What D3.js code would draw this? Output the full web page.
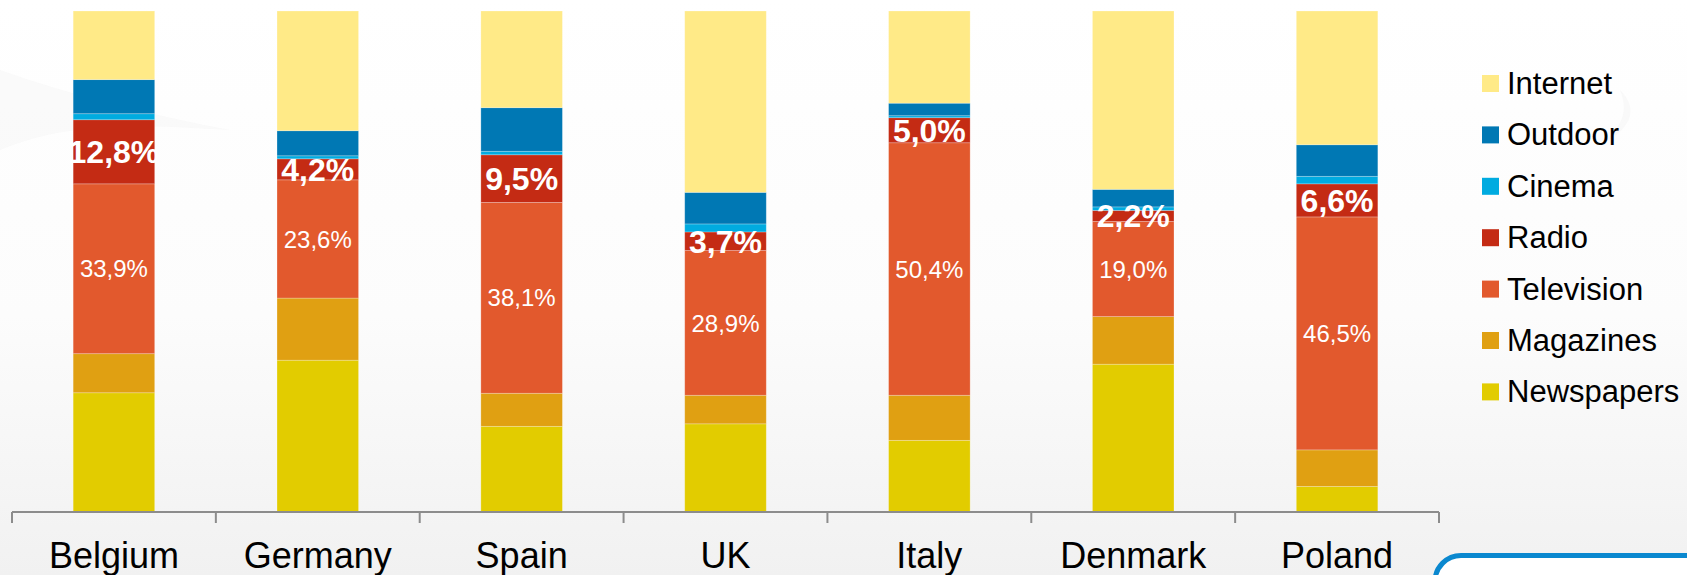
<!DOCTYPE html>
<html>
<head>
<meta charset="utf-8">
<script src="https://cdn.jsdelivr.net/npm/d3@7"></script>
<style>
  html, body { margin: 0; padding: 0; overflow: hidden; }
  body { width: 1687px; height: 575px; }
  text { font-family: "Liberation Sans", Arial, sans-serif; }
</style>
</head>
<body>
<div id="chart"></div>
<script>
// data: share of ad spend per medium (%)
var countries = ["Belgium", "Germany", "Spain", "UK", "Italy", "Denmark", "Poland"];
var media = ["Newspapers", "Magazines", "Television", "Radio", "Cinema", "Outdoor", "Internet"];

var newspapers = [23.8, 30.3, 17.1, 17.6, 14.3, 29.5, 5.1];
var magazines  = [7.8, 12.4, 6.6, 5.7, 9.0, 9.5, 7.3];
var television = [33.9, 23.6, 38.1, 28.9, 50.4, 19.0, 46.5];
var radio      = [12.8, 4.2, 9.5, 3.7, 5.0, 2.2, 6.6];
var cinema     = [1.2, 0.6, 0.7, 1.6, 0.4, 0.7, 1.5];
var outdoor    = [6.8, 5.0, 8.7, 6.3, 2.5, 3.5, 6.3];
var internet   = [13.7, 23.9, 19.3, 36.2, 18.4, 35.6, 26.7];

var colors = {
  Newspapers: "#e2cc00",
  Magazines: "#e0a012",
  Television: "#e2592d",
  Radio: "#c42b14",
  Cinema: "#00abe0",
  Outdoor: "#0078b4",
  Internet: "#ffea87"
};

// build rows for the stack
var series = [newspapers, magazines, television, radio, cinema, outdoor, internet];
var rows = countries.map(function(c, i) {
  var r = { country: c };
  media.forEach(function(m, k) { r[m] = series[k][i]; });
  return r;
});

var W = 1687, H = 575;

var svg = d3.select("#chart").append("svg")
  .attr("width", W)
  .attr("height", H);

// background gradient
var defs = svg.append("defs");
var grad = defs.append("linearGradient")
  .attr("id", "bg")
  .attr("x1", 0).attr("y1", 0).attr("x2", 0).attr("y2", 1);
grad.append("stop").attr("offset", "0%").attr("stop-color", "#ffffff");
grad.append("stop").attr("offset", "55%").attr("stop-color", "#fcfcfc");
grad.append("stop").attr("offset", "100%").attr("stop-color", "#f1f1f1");

svg.append("rect")
  .attr("width", W)
  .attr("height", H)
  .attr("fill", "url(#bg)");

// very faint swooshes in the background
svg.append("path")
  .attr("d", "M0,70 C70,95 150,115 230,130 C150,125 70,120 0,150 Z")
  .attr("fill", "#f5f5f5")
  .attr("opacity", 0.5);
svg.append("path")
  .attr("d", "M1620,90 C1640,110 1630,130 1600,145 C1625,125 1628,110 1620,90 Z")
  .attr("fill", "#f3f3f3")
  .attr("opacity", 0.5);

// scales
var x = d3.scaleBand()
  .domain(countries)
  .range([12, 1439])
  .paddingInner(0.6)
  .paddingOuter(0.3);

var y = d3.scaleLinear()
  .domain([0, 100])
  .range([512, 11]);

var stack = d3.stack().keys(media);
var stacked = stack(rows);

// bars
var layers = svg.append("g").selectAll("g")
  .data(stacked)
  .enter().append("g")
  .attr("fill", function(d) { return colors[d.key]; });

layers.selectAll("rect")
  .data(function(d) { return d; })
  .enter().append("rect")
  .attr("x", function(d) { return x(d.data.country); })
  .attr("y", function(d) { return y(d[1]); })
  .attr("width", x.bandwidth())
  .attr("height", function(d) { return y(d[0]) - y(d[1]); })
  .attr("stroke", "rgba(255,255,255,0.3)")
  .attr("stroke-width", 0.8);

// labels for television and radio
function fmt(v) { return v.toFixed(1).replace(".", ",") + "%"; }

stacked.forEach(function(layer) {
  if (layer.key !== "Television" && layer.key !== "Radio") return;
  var bold = layer.key === "Radio";
  svg.append("g").selectAll("text")
    .data(layer)
    .enter().append("text")
    .attr("x", function(d) { return x(d.data.country) + x.bandwidth() / 2; })
    .attr("y", function(d) { return (y(d[0]) + y(d[1])) / 2; })
    .attr("dy", "0.36em")
    .attr("text-anchor", "middle")
    .attr("fill", "#ffffff")
    .style("font-size", bold ? "32px" : "24px")
    .style("font-weight", bold ? "bold" : "normal")
    .text(function(d) { return fmt(d.data[layer.key]); });
});

// x axis: labels centred, ticks at band edges
var xAxis = svg.append("g")
  .attr("transform", "translate(0,512)")
  .call(d3.axisBottom(x).tickSize(0));
xAxis.select(".domain").remove();
xAxis.selectAll("text")
  .attr("y", 55.5)
  .attr("dy", 0)
  .attr("fill", "#000")
  .style("font-size", "36px")
  .style("font-family", "'Liberation Sans', Arial, sans-serif");

var edges = d3.range(countries.length + 1).map(function(i) {
  return x.range()[0] + i * x.step();
});
svg.append("line")
  .attr("x1", edges[0]).attr("x2", edges[edges.length - 1])
  .attr("y1", 512).attr("y2", 512)
  .attr("stroke", "#8c8c8c")
  .attr("stroke-width", 2);
svg.append("g").selectAll("line")
  .data(edges)
  .enter().append("line")
  .attr("x1", function(d) { return d; })
  .attr("x2", function(d) { return d; })
  .attr("y1", 512).attr("y2", 523)
  .attr("stroke", "#8c8c8c")
  .attr("stroke-width", 2);

// legend (top item = Internet)
var legendItems = media.slice().reverse();
var legend = svg.append("g").attr("transform", "translate(1482,75)");
var li = legend.selectAll("g")
  .data(legendItems)
  .enter().append("g")
  .attr("transform", function(d, i) { return "translate(0," + (i * 51.4) + ")"; });
li.append("rect")
  .attr("width", 17)
  .attr("height", 17)
  .attr("fill", function(d) { return colors[d]; });
li.append("text")
  .attr("x", 25)
  .attr("y", 19)
  .style("font-size", "31px")
  .attr("fill", "#000")
  .text(function(d) { return d; });

// blue rounded box in the corner
svg.append("rect")
  .attr("x", 1435)
  .attr("y", 555.5)
  .attr("width", 300)
  .attr("height", 100)
  .attr("rx", 26)
  .attr("fill", "#ffffff")
  .attr("stroke", "#0a88cf")
  .attr("stroke-width", 5);
</script>
</body>
</html>
